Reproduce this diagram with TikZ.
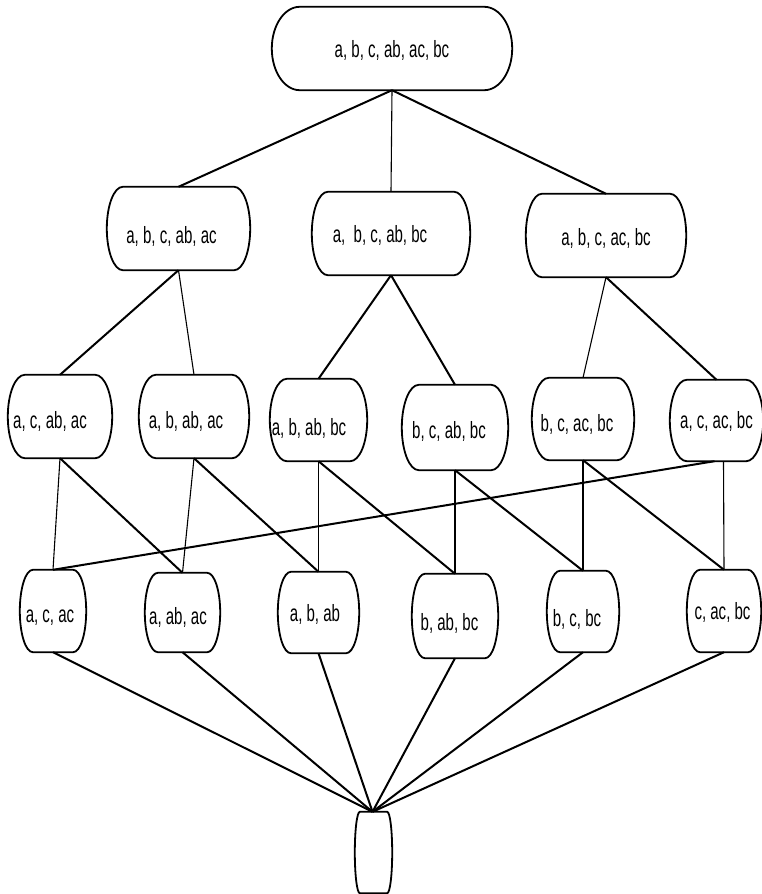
\documentclass[tikz,border=0pt]{standalone}
\usepackage{fontspec}
\setmainfont{Liberation Sans}[FakeStretch=0.64]
\usetikzlibrary{calc}
\tikzset{
  x=1pt, y=1pt,
  term/.style n args={3}{draw=none, inner sep=0pt, minimum width=#1pt, minimum height=#2pt,
    text height=#3pt, text depth=0pt, font=\fontsize{23.5}{27}\selectfont},
  txl/.style={execute at end node={\kern#1pt}},
  boxline/.style={line width=1.8pt},
  thickc/.style={line width=2pt},
  thinc/.style={line width=1.1pt}
}
\newcommand\termbox[2]{%
  \draw[boxline] let \p1=(#1.north west), \p2=(#1.south east), \n1={0.5*(\y1-\y2)} in
    (\x1+#2pt,\y1) -- (\x2-#2pt,\y1) arc[start angle=90, end angle=-90, x radius=#2pt, y radius=\n1]
    -- (\x1+#2pt,\y2) arc[start angle=270, end angle=90, x radius=#2pt, y radius=\n1] -- cycle;}
\begin{document}
\begin{tikzpicture}
\useasboundingbox (0,0) rectangle (762,-894);
% level 0
\node[term={240}{83}{18}] (top) at (392,-48.5) {a, b, c, ab, ac, bc};
% level 1
\node[term={143}{83}{29}, txl=14] (n1) at (178.5,-228.5) {a, b, c, ab, ac};
\node[term={158}{83}{18}, txl=22] (n2) at (391,-233.5) {a,\ \ b, c, ab, bc};
\node[term={160}{83}{19}] (n3) at (606,-235.5) {a, b, c, ac, bc};
% level 2
\node[term={104}{83}{23}, txl=20] (l1) at (60,-416.5) {a, c, ab, ac};
\node[term={110}{83}{23}, txl=16] (l2) at (194,-416.5) {a, b, ab, ac};
\node[term={97}{82}{30}, txl=19] (l3) at (318.5,-420) {a, b, ab, bc};
\node[term={106}{85}{22}, txl=12] (l4) at (455,-427.5) {b, c, ab, bc};
\node[term={102}{82}{24}, txl=12] (l5) at (583,-419) {b, c, ac, bc};
\node[term={93}{81}{16}] (l6) at (716.5,-420.5) {a, c, ac, bc};
% level 3
\node[term={66}{82}{22}, txl=6] (m1) at (53,-611) {a, c, ac};
\node[term={75}{79}{23}, txl=9] (m2) at (182.5,-612.5) {a, ab, ac};
\node[term={81}{81}{18}, txl=7] (m3) at (318.5,-612.5) {a, b, ab};
\node[term={86}{84}{28}, txl=11] (m4) at (455,-616) {b, ab, bc};
\node[term={72}{81}{30}, txl=12] (m5) at (583,-611.5) {b, c, bc};
\node[term={74}{82}{17}, txl=3] (m6) at (724,-611) {c, ac, bc};
% bottom
\node[term={37}{81}{0}] (bot) at (373.5,-852.5) {};
% shapes
\termbox{top}{28}
\foreach \nd in {n1,n2,n3}{\termbox{\nd}{16}}
\foreach \nd in {l1,l2,l3,l4,l5,l6}{\termbox{\nd}{17}}
\foreach \nd in {m1,m2,m3,m4,m5,m6}{\termbox{\nd}{13}}
\termbox{bot}{5}
% connectors level 0-1
\draw[thickc] (top.south) -- (n1.north);
\draw[thinc] (top.south) -- (n2.north);
\draw[thickc] (top.south) -- (n3.north);
% level 1-2
\draw[thickc] (n1.south) -- (l1.north);
\draw[thinc] (n1.south) -- (l2.north);
\draw[thickc] (n2.south) -- (l3.north);
\draw[thickc] (n2.south) -- (l4.north);
\draw[thinc] (n3.south) -- (l5.north);
\draw[thickc] (n3.south) -- (l6.north);
% level 2-3
\draw[thinc] (l1.south) -- (m1.north);
\draw[thickc] (l1.south) -- (m2.north);
\draw[thinc] (l2.south) -- (m2.north);
\draw[thickc] (l2.south) -- (m3.north);
\draw[thinc] (l3.south) -- (m3.north);
\draw[thickc] (l3.south) -- (m4.north);
\draw[thinc] (l4.south) -- (m4.north);
\draw[thickc] (l4.south) -- (m5.north);
\draw[thinc] (l5.south) -- (m5.north);
\draw[thickc] (l5.south) -- (m6.north);
\draw[thickc] ([xshift=-2pt]l6.south) -- (m1.north);
\draw[thinc] ([xshift=7pt]l6.south) -- (m6.north);
% level 3-bottom
\foreach \nd in {m1,m2,m3,m4,m5,m6}{\draw[thickc] (\nd.south) -- ([xshift=-1pt]bot.north);}
\end{tikzpicture}
\end{document}
